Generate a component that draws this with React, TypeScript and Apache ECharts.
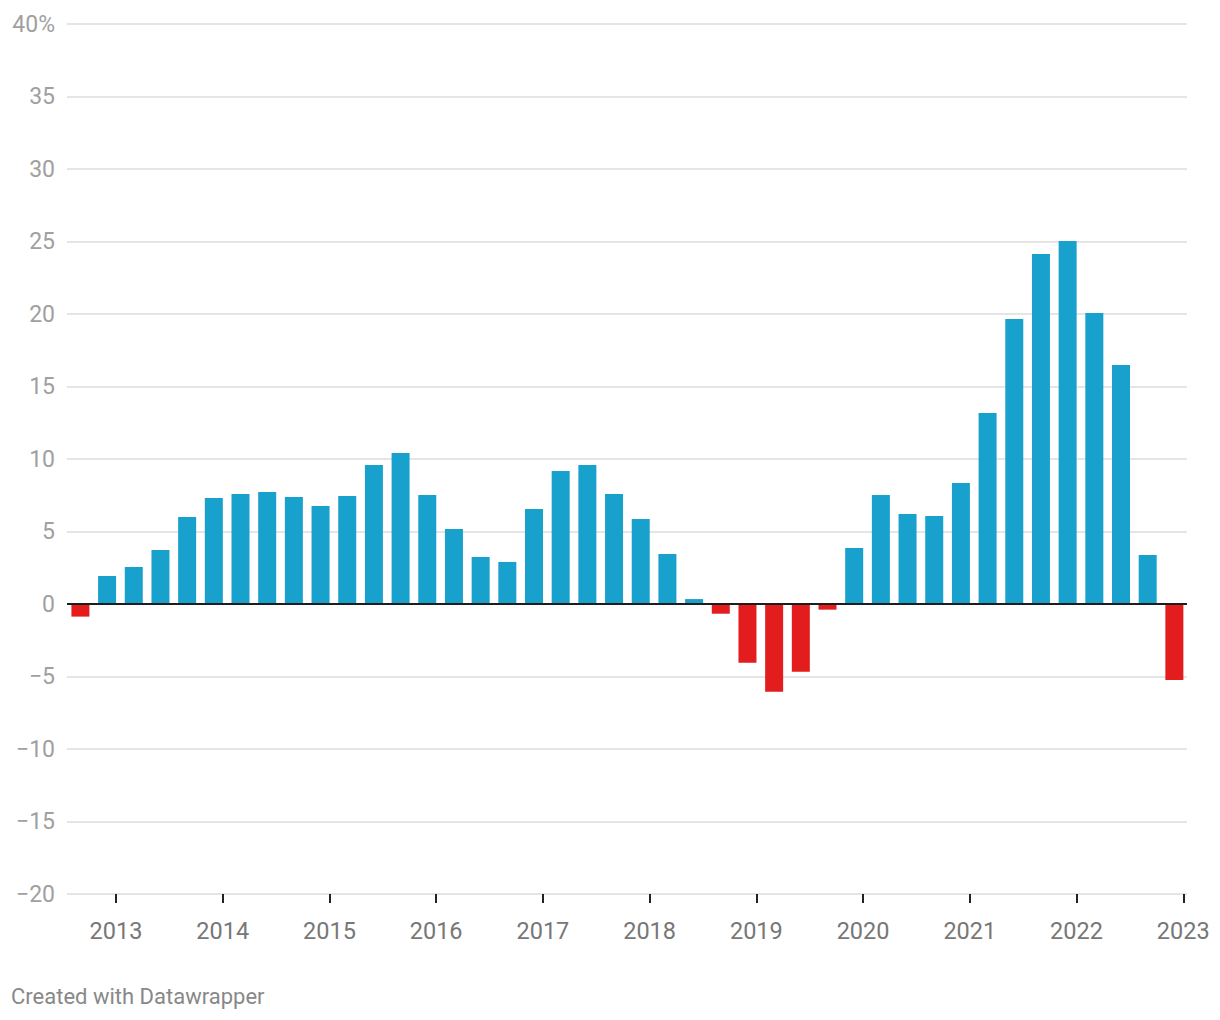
import React, { useEffect, useRef } from "react";
import * as echarts from "echarts";

// Quarterly observations (month of the bar's position)
const periods: string[] = [
  "2012-09", "2012-12",
  "2013-03", "2013-06", "2013-09", "2013-12",
  "2014-03", "2014-06", "2014-09", "2014-12",
  "2015-03", "2015-06", "2015-09", "2015-12",
  "2016-03", "2016-06", "2016-09", "2016-12",
  "2017-03", "2017-06", "2017-09", "2017-12",
  "2018-03", "2018-06", "2018-09", "2018-12",
  "2019-03", "2019-06", "2019-09", "2019-12",
  "2020-03", "2020-06", "2020-09", "2020-12",
  "2021-03", "2021-06", "2021-09", "2021-12",
  "2022-03", "2022-06", "2022-09", "2022-12",
];

const values: number[] = [
  -0.87, 1.93, 2.55, 3.72, 6.0, 7.31, 7.59, 7.72, 7.38, 6.76,
  7.45, 9.59, 10.41, 7.52, 5.17, 3.24, 2.9, 6.55, 9.17, 9.59,
  7.59, 5.86, 3.45, 0.34, -0.67, -4.05, -6.05, -4.67, -0.39, 3.86,
  7.52, 6.21, 6.07, 8.34, 13.17, 19.66, 24.14, 25.03, 20.07, 16.48,
  3.38, -5.24,
];

const yearTicks: number[] = [2013, 2014, 2015, 2016, 2017, 2018, 2019, 2020, 2021, 2022, 2023];

const BLUE = "#18a1cd";
const RED = "#e31c1e";

function toYear(p: string): number {
  const [y, m] = p.split("-").map(Number);
  return y + (m - 1) / 12;
}

export default function App() {
  const ref = useRef<HTMLDivElement>(null);

  useEffect(() => {
    if (!ref.current) return;
    const chart = echarts.init(ref.current, null, { renderer: "svg" });
    const data = periods.map((p, i) => ({
      value: [toYear(p), values[i]],
      itemStyle: { color: values[i] < 0 ? RED : BLUE },
    }));
    chart.setOption({
      animation: false,
      backgroundColor: "#ffffff",
      textStyle: { fontFamily: "Roboto" },
      grid: { left: 67, right: 33, top: 24, bottom: 126, containLabel: false },
      xAxis: {
        type: "value",
        min: 2012.541,
        max: 2023.035,
        splitLine: { show: false },
        axisLine: { show: false, onZero: false },
        axisTick: {
          show: true,
          customValues: yearTicks,
          length: 9,
          lineStyle: { color: "#222", width: 2 },
        },
        axisLabel: {
          customValues: yearTicks,
          color: "#777",
          fontSize: 23.5,
          fontFamily: "Roboto",
          margin: 25,
          formatter: (v: number) => String(Math.round(v)),
        },
      },
      yAxis: {
        type: "value",
        min: -20,
        max: 40,
        interval: 5,
        axisLine: { show: false },
        axisTick: { show: false },
        splitLine: { show: true, lineStyle: { color: "#e5e5e5", width: 2 } },
        axisLabel: {
          color: "#a0a0a0",
          fontSize: 23,
          fontFamily: "Roboto",
          margin: 12,
          formatter: (v: number) =>
            v === 40 ? "40%" : v < 0 ? "\u2212" + Math.abs(v) : String(v),
        },
      },
      series: [
        {
          type: "bar",
          data,
          barWidth: 18,
          markLine: {
            silent: true,
            symbol: ["none", "none"],
            label: { show: false },
            lineStyle: { color: "#1d1d1d", width: 2, type: "solid" },
            data: [{ yAxis: 0 }],
          },
        },
      ],
      graphic: [
        {
          type: "text",
          left: 11,
          top: 985,
          style: {
            text: "Created with Datawrapper",
            fill: "#888",
            font: "22px Roboto",
          },
        },
      ],
    });
    return () => chart.dispose();
  }, []);

  return (
    <div
      ref={ref}
      style={{ position: "absolute", left: 0, top: 0, width: 1220, height: 1020 }}
    />
  );
}
